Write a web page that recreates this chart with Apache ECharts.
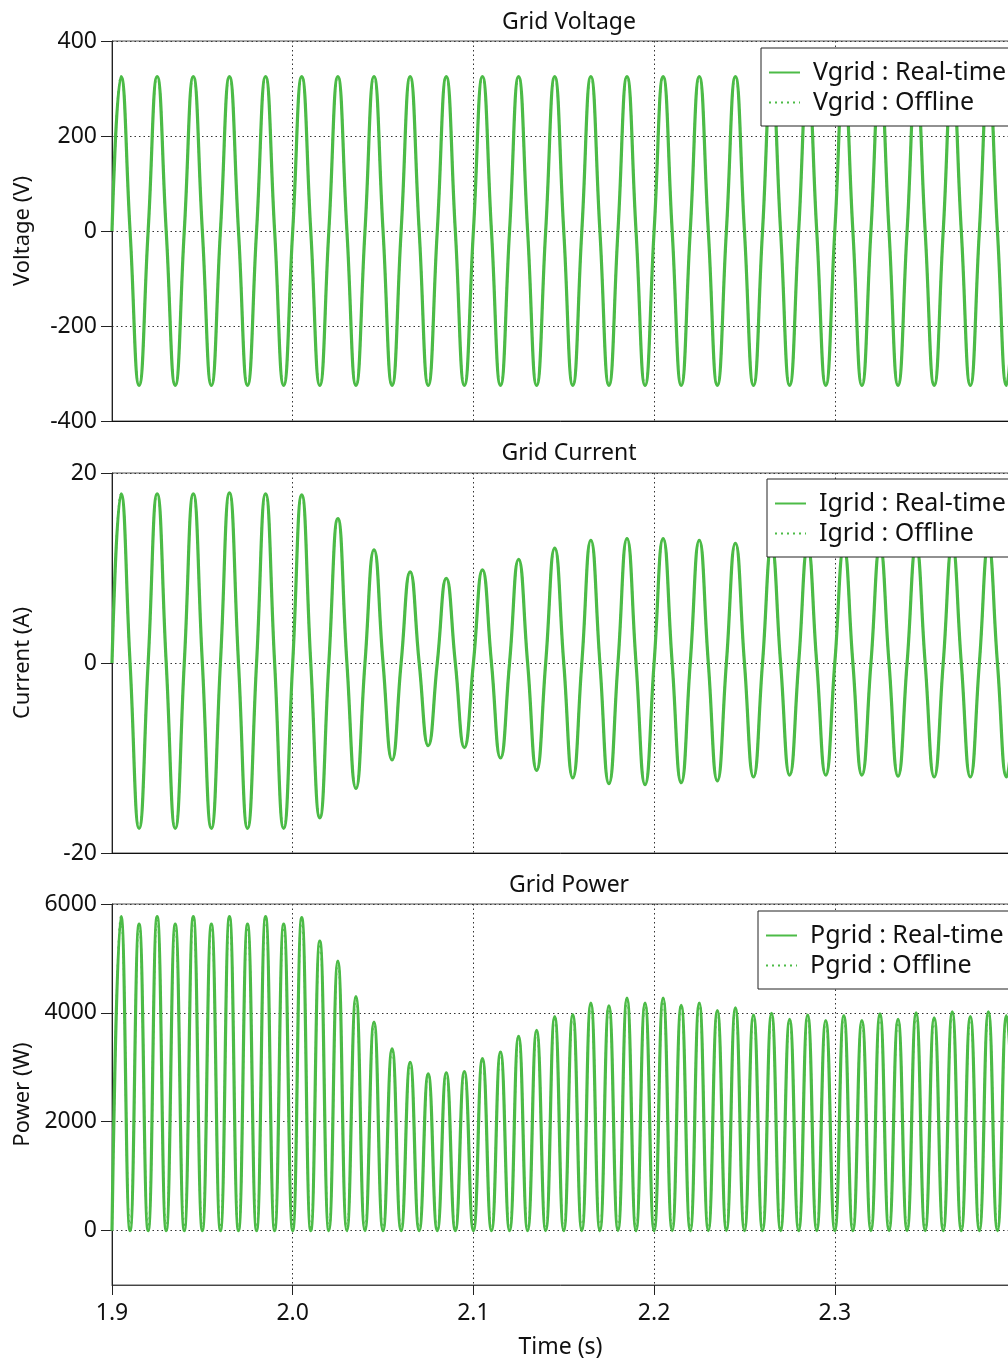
<!DOCTYPE html>
<html><head><meta charset="utf-8">
<script src="https://cdn.jsdelivr.net/npm/echarts@6/dist/echarts.min.js"></script>
<style>html,body{margin:0;padding:0;background:#fff}#c{width:1008px;height:1363px}</style>
</head><body><div id="c"></div>
<script>
// Time base: zero crossings every half cycle (50 Hz grid), extrema in between
const tStart = 1.9;
const halfCycle = 0.01;
const tEnd = 2.4;

// Voltage extrema (V): positive peaks at 1.905 + 0.02k, troughs at 1.915 + 0.02k
const vPeaks = [325,325,325,325,325,325,325,325,325,325,325,325,325,325,325,325,325,325,325,325,325,325,325,325,325];
const vTroughs = [-325,-325,-325,-325,-325,-325,-325,-325,-325,-325,-325,-325,-325,-325,-325,-325,-325,-325,-325,-325,-325,-325,-325,-325,-325];

// Current extrema (A)
const iPeaks = [17.8,17.8,17.8,17.9,17.8,17.7,15.2,11.9,9.6,8.9,9.8,10.9,12.1,12.9,13.1,13.1,12.9,12.6,12.3,12.2,12.1,12.2,12.3,12.4,12.4];
const iTroughs = [-17.4,-17.4,-17.4,-17.4,-17.4,-16.3,-13.2,-10.2,-8.7,-8.9,-10.0,-11.3,-12.1,-12.7,-12.8,-12.6,-12.4,-12.0,-11.8,-11.8,-11.8,-11.9,-12.0,-12.0,-12.0];

// Power peaks (W) at 1.905 + 0.01k, zeros at 1.9 + 0.01k
const pPeaks = [5770,5630,5770,5630,5770,5630,5770,5630,5770,5630,
                5750,5320,4950,4300,3830,3340,3090,2880,2900,2920,
                3160,3280,3570,3680,3930,3970,4180,4130,4270,4180,
                4270,4140,4180,4040,4090,3960,3990,3880,3960,3860,
                3950,3860,3980,3880,4000,3910,4020,3930,4020,3950];

const vTicks = [-400,-200,0,200,400];
const iTicks = [-20,0,20];
const pTicks = [0,2000,4000,6000];
const xTickStep = 0.1;

function acWave(peaks, troughs) {
  const d = [];
  const n = peaks.length + troughs.length;
  for (let k = 0; k < n; k++) {
    const t = tStart + k * halfCycle;
    d.push([+t.toFixed(4), 0]);
    const v = (k % 2 === 0) ? peaks[k / 2] : troughs[(k - 1) / 2];
    d.push([+(t + halfCycle / 2).toFixed(4), v]);
  }
  d.push([tEnd, 0]);
  return d;
}
function powerWave(peaks) {
  const d = [];
  for (let k = 0; k < peaks.length; k++) {
    const t = tStart + k * halfCycle;
    d.push([+t.toFixed(4), 0]);
    d.push([+(t + halfCycle / 2).toFixed(4), peaks[k]]);
  }
  d.push([tEnd, 0]);
  return d;
}

const vData = acWave(vPeaks, vTroughs);
const iData = acWave(iPeaks, iTroughs);
const pData = powerWave(pPeaks);

const GREEN = '#4cbb47';
const FONT = "'Noto Sans', sans-serif";
const xMax = 2.3964;

function xAxis(gi, last) {
  return {
    type: 'value', gridIndex: gi, min: tStart, max: xMax, interval: xTickStep,
    axisLine: { show: true, onZero: false, lineStyle: { color: last ? '#444' : '#111', width: 1 } },
    axisTick: { show: last, inside: false, length: 10, lineStyle: { color: '#222' } },
    axisLabel: {
      show: last, margin: 17, fontSize: 23, color: '#111', fontFamily: FONT,
      formatter: v => (Math.abs(v * 10 - Math.round(v * 10)) > 1e-6 ? '' : v.toFixed(1))
    },
    splitLine: { show: true, lineStyle: { type: [1.5, 3], color: '#333', width: 1 } },
    name: last ? 'Time (s)' : '', nameLocation: 'middle', nameGap: 51,
    nameTextStyle: { fontSize: 23, color: '#111', fontFamily: FONT }
  };
}
function yAxis(gi, name, min, max, ticks) {
  return {
    type: 'value', gridIndex: gi, min: min, max: max,
    name: name, nameLocation: 'middle', nameGap: 78,
    nameTextStyle: { fontSize: 22, color: '#111', fontFamily: FONT },
    axisLine: { show: true, onZero: false, lineStyle: { color: '#222' } },
    axisTick: { show: true, inside: false, length: 11, customValues: ticks, lineStyle: { color: '#222' } },
    axisLabel: { customValues: ticks, margin: 15, fontSize: 23, color: '#111', fontFamily: FONT,
      formatter: v => String(v) },
    splitLine: { show: true, lineStyle: { type: [1.5, 3], color: '#333', width: 1 } }
  };
}
function legend(left, top, names) {
  return {
    orient: 'vertical', left: left, top: top, data: names, selectedMode: false,
    backgroundColor: '#fff', borderColor: '#222', borderWidth: 1,
    padding: [12, 20, 11, 7], itemGap: 5, itemWidth: 31, itemHeight: 14,
    itemStyle: { color: 'rgba(0,0,0,0)', borderWidth: 0, opacity: 0 },
    textStyle: { fontSize: 25, color: '#111', fontFamily: FONT, padding: [0, 0, 0, 8] }
  };
}
function series(name, gi, data, dotted) {
  return {
    name: name, type: 'line', xAxisIndex: gi, yAxisIndex: gi, data: data,
    smooth: 0.5, showSymbol: false, symbol: 'none', animation: false, clip: true,
    lineStyle: dotted ? { color: GREEN, width: 2, type: [2, 4] } : { color: GREEN, width: 3.2 },
    itemStyle: { color: GREEN }
  };
}
const gridBase = { left: 112, right: -1, show: true, borderColor: '#555', borderWidth: 1, backgroundColor: 'transparent', containLabel: false, outerBoundsMode: 'none' };

const chart = echarts.init(document.getElementById('c'), null, { renderer: 'canvas' });
chart.setOption({
  animation: false,
  backgroundColor: '#fff',
  title: [
    { text: 'Grid Voltage', left: 564, top: 6, textAlign: 'center', textStyle: { fontSize: 23, fontWeight: 'normal', color: '#111', fontFamily: FONT } },
    { text: 'Grid Current', left: 564, top: 437, textAlign: 'center', textStyle: { fontSize: 23, fontWeight: 'normal', color: '#111', fontFamily: FONT } },
    { text: 'Grid Power', left: 564, top: 869, textAlign: 'center', textStyle: { fontSize: 23, fontWeight: 'normal', color: '#111', fontFamily: FONT } }
  ],
  grid: [
    Object.assign({}, gridBase, { top: 41, height: 380 }),
    Object.assign({}, gridBase, { top: 473, height: 380 }),
    Object.assign({}, gridBase, { top: 904, height: 381 })
  ],
  xAxis: [xAxis(0, false), xAxis(1, false), xAxis(2, true)],
  yAxis: [
    yAxis(0, 'Voltage (V)', -400, 400, vTicks),
    yAxis(1, 'Current (A)', -20, 20, iTicks),
    yAxis(2, 'Power (W)', -1000, 6000, pTicks)
  ],
  legend: [
    legend(761, 48, ['Vgrid : Real-time', 'Vgrid : Offline']),
    legend(767, 479, ['Igrid : Real-time', 'Igrid : Offline']),
    legend(758, 911, ['Pgrid : Real-time', 'Pgrid : Offline'])
  ],
  series: [
    series('Vgrid : Real-time', 0, vData, false),
    series('Vgrid : Offline', 0, vData, true),
    series('Igrid : Real-time', 1, iData, false),
    series('Igrid : Offline', 1, iData, true),
    series('Pgrid : Real-time', 2, pData, false),
    series('Pgrid : Offline', 2, pData, true)
  ]
});
</script></body></html>
